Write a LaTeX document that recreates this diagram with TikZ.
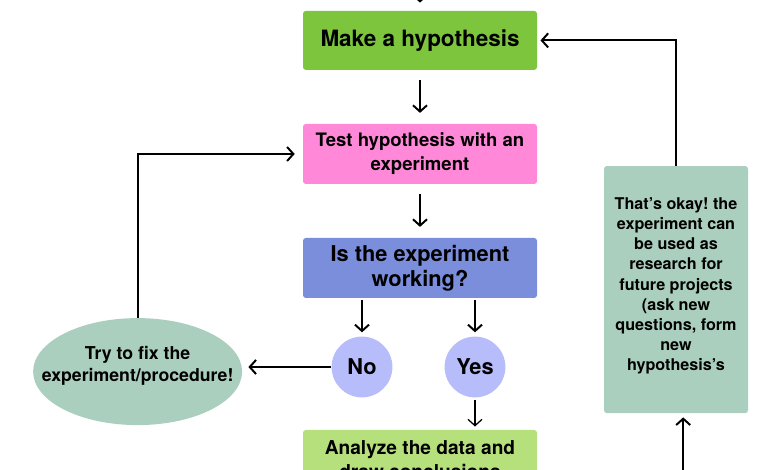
\documentclass[tikz,border=0pt]{standalone}
\usepackage{fontspec}
\setmainfont{TeX Gyre Heros}
\frenchspacing
\usetikzlibrary{positioning,arrows,arrows.meta,shapes}

\definecolor{hypgreen}{HTML}{7DC53D}
\definecolor{testpink}{HTML}{FF88D9}
\definecolor{workblue}{HTML}{7B8EDC}
\definecolor{yesno}{HTML}{B7BDFB}
\definecolor{sage}{HTML}{ABCFBE}
\definecolor{anagreen}{HTML}{B6E07C}

\begin{document}
\begin{tikzpicture}[>={Straight Barb[length=4.5pt,width=10pt]},
  box/.style={rectangle,rounded corners=2pt,minimum width=5.85cm,minimum height=1.5cm,align=center},
  dot/.style={circle,fill=yesno,minimum size=1.52cm,inner sep=0pt,font=\fontsize{15.5}{18}\selectfont\bfseries},
  arr/.style={->,line width=1.4pt},
  gap/.style={shorten <=0.25cm,shorten >=0.27cm}]
            \useasboundingbox (0,0) rectangle (19.5,11.75);

            \node[box,fill=hypgreen,minimum height=1.475cm,font=\fontsize{16}{19}\selectfont\bfseries] (hyp) at (10.5,10.74) {Make a hypothesis};
            \node[box,fill=testpink,font=\fontsize{13.2}{17}\selectfont\bfseries] (test) at (10.5,7.9) {Test hypothesis with an\\experiment};
            \node[box,fill=workblue,font=\fontsize{15.5}{18}\selectfont\bfseries] (work) at (10.5,5.05) {Is the experiment\\working?};
            \node[dot] (no) at (9.05,2.575) {No};
            \node[dot] (yes) at (11.875,2.575) {Yes};
            \node[ellipse,fill=sage,minimum width=5.225cm,minimum height=2.675cm,inner xsep=-0.6cm,inner ysep=0.2cm,align=center,font=\fontsize{12.6}{15.6}\selectfont\bfseries] (fix) at (3.44,2.46) {Try to fix the\\experiment/procedure!\\[-5pt]};
            \node[box,fill=anagreen,font=\fontsize{13.6}{17}\selectfont\bfseries] (ana) at (10.5,0.25) {Analyze the data and\\draw conclusions};
            \node[rectangle,rounded corners=2pt,fill=sage,minimum width=3.6cm,minimum height=6.175cm,align=center,font=\fontsize{11.5}{14.3}\selectfont\bfseries] (okay) at (16.9,4.51) {That’s okay! the\\experiment can\\be used as\\research for\\future projects\\(ask new\\questions, form\\new\\hypothesis’s\\[-6.5pt]};

            \coordinate (above) at (10.5,12.5);
            \coordinate (below) at (17.08,-0.5);

            \draw[arr,shorten >=0.2cm] (above) -- (hyp);
            \draw[arr,gap] (hyp) -- (test);
            \draw[arr,gap] (test) -- (work);
            \draw[arr,shorten <=0.05cm,shorten >=0.1cm] (work.south -| no) -- (no);
            \draw[arr,shorten <=0.05cm,shorten >=0.1cm] (work.south -| yes) -- (yes);
            \draw[arr,shorten >=0.15cm] (no.west) -- (no.west -| fix.east);
            \draw[arr,shorten >=0.2cm] (fix) |- (test);
            \draw[->,line width=0.9pt,shorten <=0.05cm,shorten >=0.08cm] (yes.south) -- (yes.south |- ana.north);
            \draw[arr,shorten >=0.08cm] (okay) |- (hyp);
            \draw[arr,shorten >=0.1cm] (below) -- (below |- okay.south);
          \end{tikzpicture}
\end{document}
